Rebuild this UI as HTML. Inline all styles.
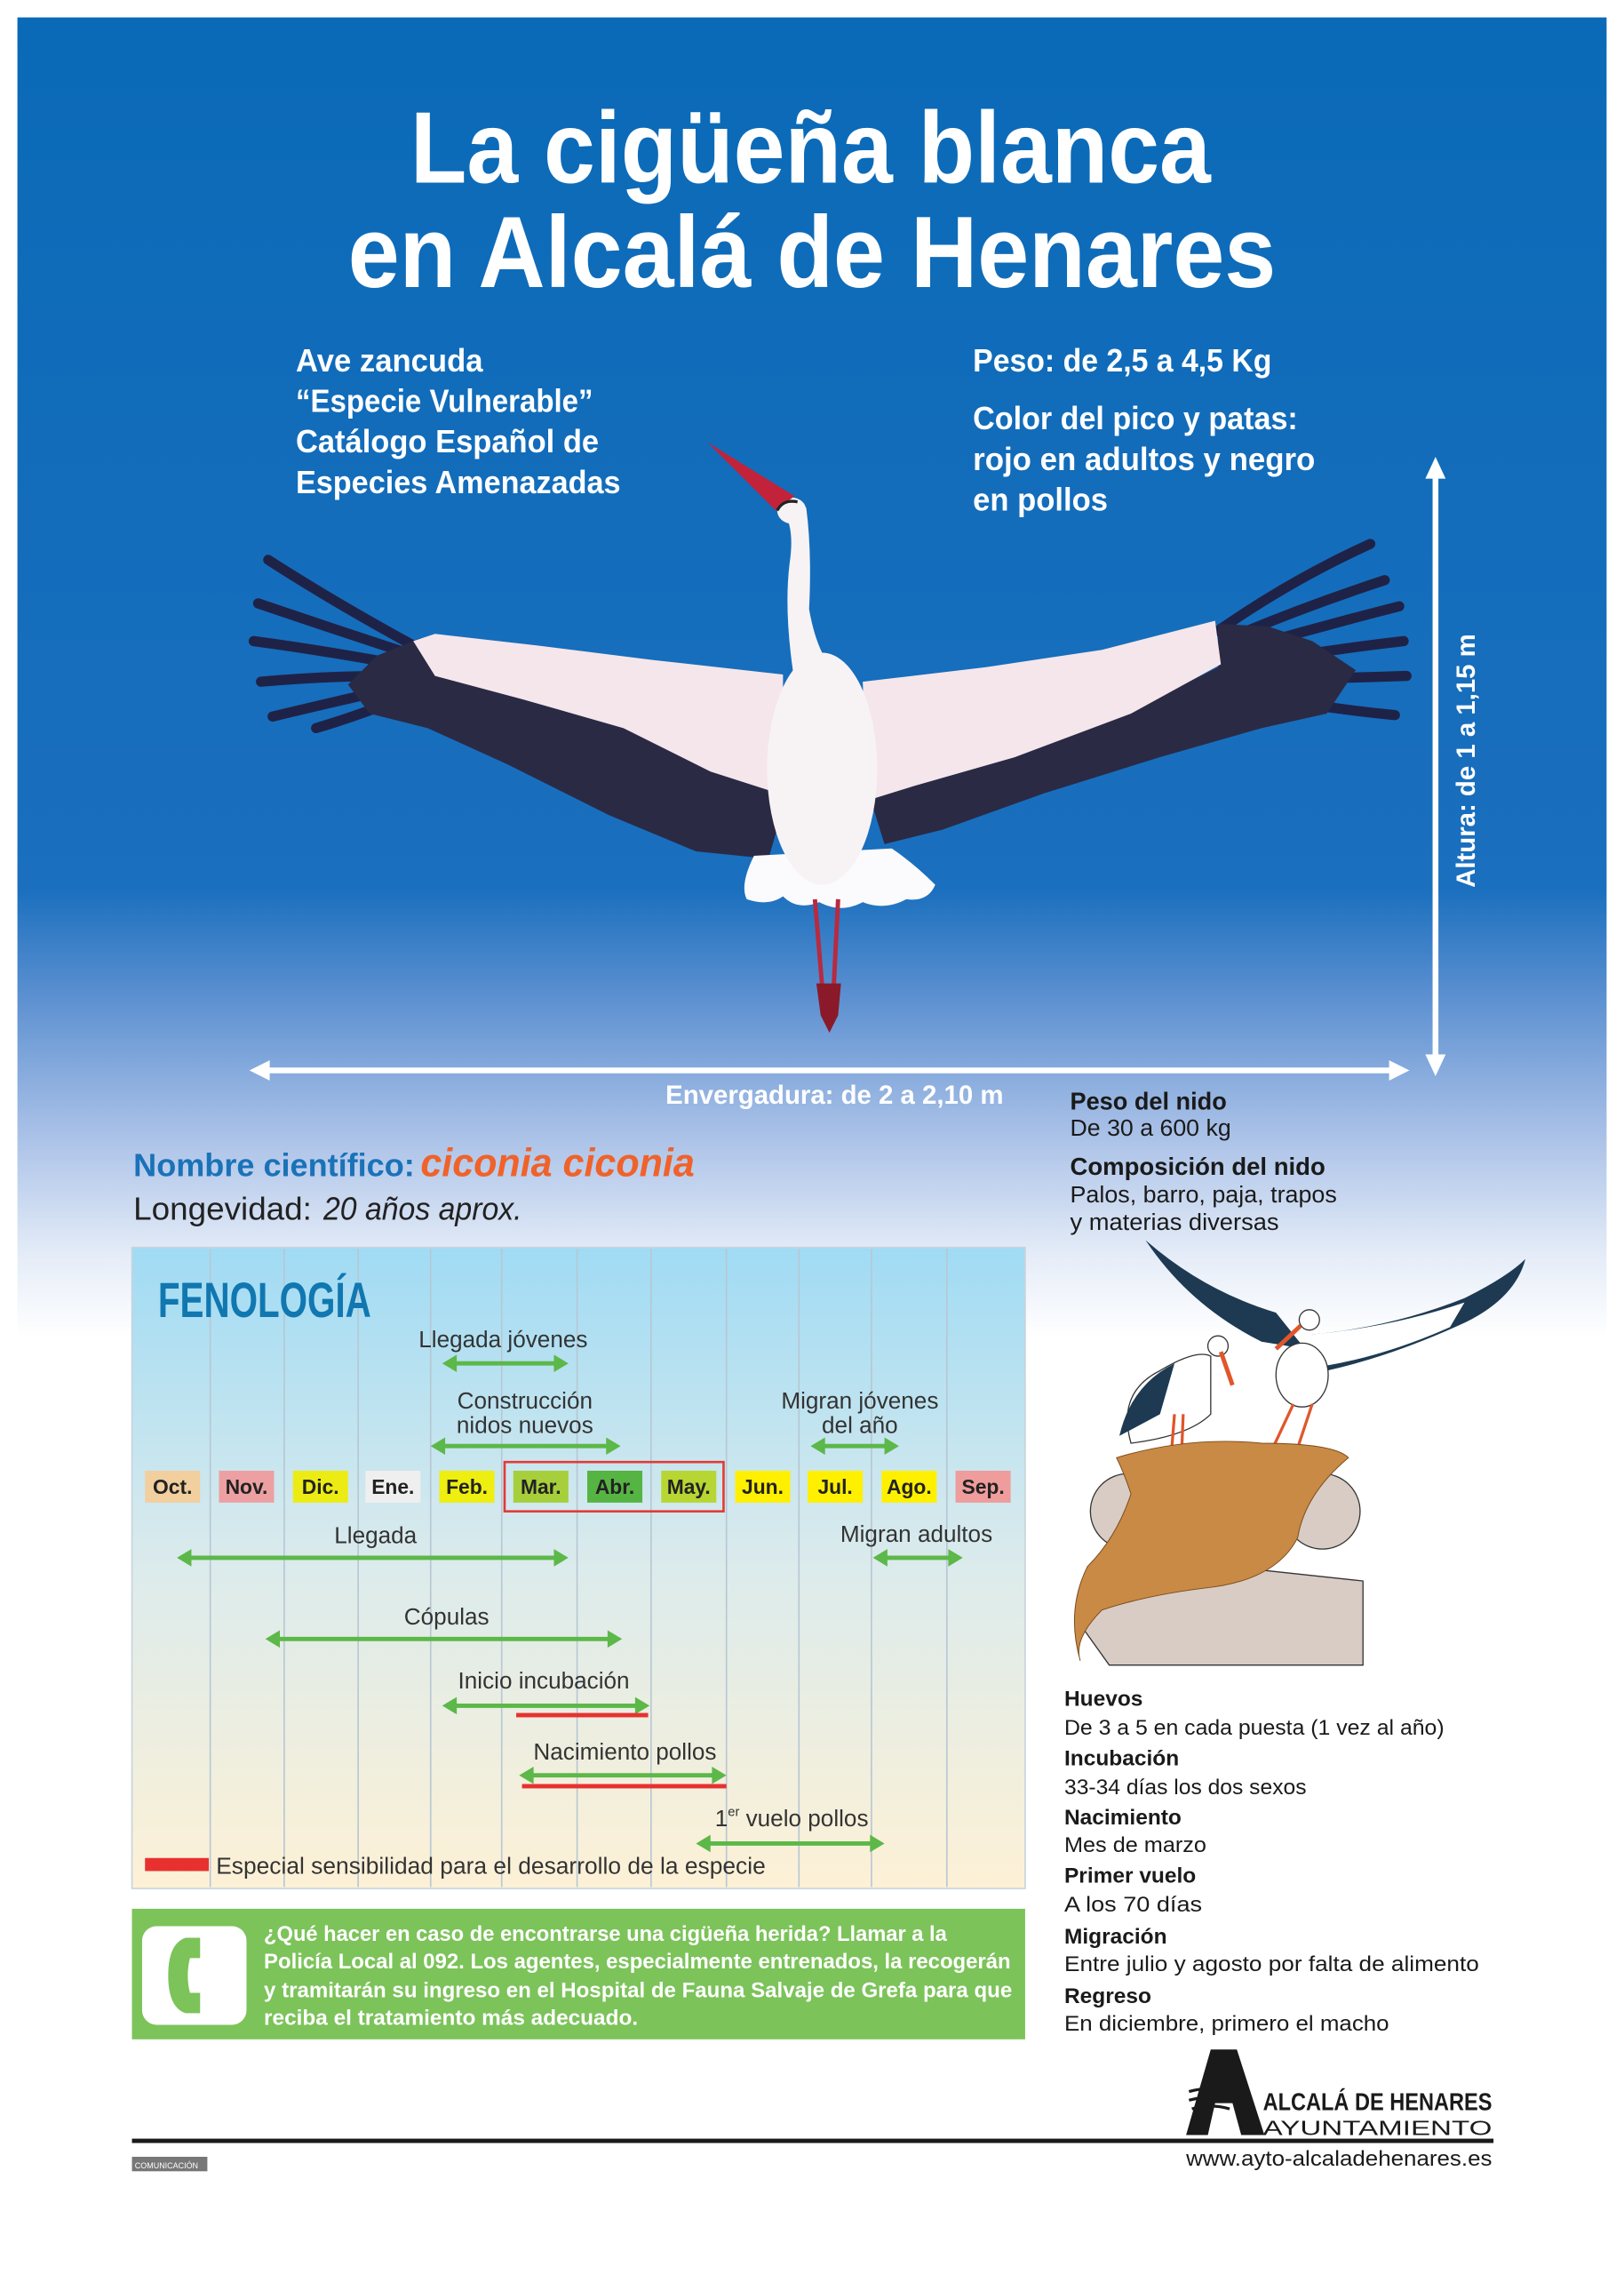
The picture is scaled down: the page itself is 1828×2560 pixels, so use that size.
<!DOCTYPE html>
<html><head><meta charset="utf-8"><style>
html,body{margin:0;padding:0;background:#fff;}
svg{display:block;}
text{font-family:"Liberation Sans",sans-serif;}
.n{font-family:"Liberation Sans Narrow","Liberation Sans",sans-serif;}
</style></head><body>
<svg width="1828" height="2560" viewBox="0 0 1120 1568.5" xmlns="http://www.w3.org/2000/svg">
<defs>
<linearGradient id="bg" x1="0" y1="0" x2="0" y2="1">
<stop offset="0" stop-color="#0a6ab7"/>
<stop offset="0.66" stop-color="#1a6fbe"/>
<stop offset="0.74" stop-color="#5a8fd0"/>
<stop offset="0.84" stop-color="#a5bee6"/>
<stop offset="0.94" stop-color="#e6edf8"/>
<stop offset="1" stop-color="#ffffff"/>
</linearGradient>
<linearGradient id="fen" x1="0" y1="0" x2="0" y2="1">
<stop offset="0" stop-color="#a0dbf4"/>
<stop offset="0.5" stop-color="#dcebec"/>
<stop offset="1" stop-color="#fdf1d6"/>
</linearGradient>
</defs>
<rect x="12" y="12" width="1096" height="910" fill="url(#bg)"/>

<!-- Title -->
<g fill="#fff" font-weight="bold">
<text x="283" y="126" font-size="70" textLength="552" lengthAdjust="spacingAndGlyphs">La cigüeña blanca</text>
<text x="240" y="198" font-size="70" textLength="640" lengthAdjust="spacingAndGlyphs">en Alcalá de Henares</text>
<g font-size="22">
<text x="204" y="256" textLength="129" lengthAdjust="spacingAndGlyphs">Ave zancuda</text>
<text x="204" y="284" textLength="205" lengthAdjust="spacingAndGlyphs">“Especie Vulnerable”</text>
<text x="204" y="312" textLength="209" lengthAdjust="spacingAndGlyphs">Catálogo Español de</text>
<text x="204" y="340" textLength="224" lengthAdjust="spacingAndGlyphs">Especies Amenazadas</text>
<text x="671" y="256" textLength="206" lengthAdjust="spacingAndGlyphs">Peso: de 2,5 a 4,5 Kg</text>
<text x="671" y="296" textLength="224" lengthAdjust="spacingAndGlyphs">Color del pico y patas:</text>
<text x="671" y="324" textLength="236" lengthAdjust="spacingAndGlyphs">rojo en adultos y negro</text>
<text x="671" y="352" textLength="93" lengthAdjust="spacingAndGlyphs">en pollos</text>
</g>
<text x="459" y="761" font-size="18" textLength="233" lengthAdjust="spacingAndGlyphs">Envergadura: de 2 a 2,10 m</text>
<text transform="translate(1017,612) rotate(-90)" font-size="18" textLength="175" lengthAdjust="spacingAndGlyphs">Altura: de 1 a 1,15 m</text>
</g>

<!-- measure arrows -->
<g fill="#fff" stroke="#fff">
<line x1="180" y1="738" x2="964" y2="738" stroke-width="4"/>
<polygon points="172,738 186,731 186,745" stroke="none"/>
<polygon points="972,738 958,731 958,745" stroke="none"/>
<line x1="990" y1="323" x2="990" y2="734" stroke-width="4"/>
<polygon points="990,315 983,330 997,330" stroke="none"/>
<polygon points="990,742 983,727 997,727" stroke="none"/>
</g>

<!-- Stork -->
<g>
<g stroke="#1f2247" stroke-width="7" stroke-linecap="round" fill="none">
<path d="M285,445 Q230,415 185,386"/>
<path d="M280,450 Q225,432 178,416"/>
<path d="M275,458 Q220,448 175,442"/>
<path d="M270,466 Q225,466 180,470"/>
<path d="M265,476 Q230,484 188,494"/>
<path d="M270,484 Q245,494 218,502"/>
<path d="M840,435 Q890,400 945,375"/>
<path d="M848,440 Q900,418 955,400"/>
<path d="M855,448 Q910,432 965,418"/>
<path d="M860,458 Q915,448 968,442"/>
<path d="M865,468 Q915,468 970,466"/>
<path d="M860,478 Q910,488 962,493"/>
</g>
<polygon fill="#2a2a45" points="290,440 260,452 240,472 255,492 295,502 350,527 420,562 480,587 530,592 545,540 490,530 430,500 360,480 300,465"/>
<polygon fill="#2a2a45" points="840,430 875,432 905,442 935,462 915,492 870,502 800,522 720,547 650,572 610,582 600,550 700,520 780,490 840,460"/>
<polygon fill="#f4e6ea" points="540,465 450,455 370,445 300,437 285,442 300,466 360,482 430,502 490,532 540,548"/>
<polygon fill="#f4e6ea" points="595,470 680,460 760,448 838,428 842,458 780,492 700,522 630,542 598,552"/>
<path d="M520,590 Q510,610 515,620 Q530,625 540,618 Q550,628 565,622 Q580,630 595,622 Q610,628 625,620 Q640,622 645,610 Q630,595 615,585 Z" fill="#fbfbfd"/>
<ellipse cx="567" cy="530" rx="38" ry="80" fill="#f7f3f5"/>
<path d="M548,470 Q540,420 545,385 Q548,360 538,350 L556,350 Q560,380 558,420 Q565,460 585,470 Z" fill="#f7f3f5"/>
<ellipse cx="546" cy="352" rx="10" ry="9" fill="#f7f3f5"/>
<path d="M535,352 L488,305 L548,342 Z" fill="#c2233a"/>
<path d="M536,352 Q540,344 550,346" stroke="#222" stroke-width="2" fill="none"/>
<g stroke="#b82a40" stroke-width="3" fill="none">
<path d="M562,620 L567,680"/><path d="M578,620 L575,680"/>
</g>
<path d="M563,678 L566,700 L572,712 L578,700 L580,678 Z" fill="#8a1a2a"/>
</g>

<!-- Science name -->
<text x="92" y="811" font-size="22" font-weight="bold" fill="#1a72b8" textLength="194" lengthAdjust="spacingAndGlyphs">Nombre científico:</text>
<text x="290" y="811" font-size="27" font-weight="bold" font-style="italic" fill="#f0622a" textLength="189" lengthAdjust="spacingAndGlyphs">ciconia ciconia</text>
<text x="92" y="841" font-size="22" fill="#222" textLength="123" lengthAdjust="spacingAndGlyphs">Longevidad:</text>
<text x="223" y="841" font-size="22" font-style="italic" fill="#222" textLength="137" lengthAdjust="spacingAndGlyphs">20 años aprox.</text>

<!-- Fenología -->
<rect x="91" y="860" width="616" height="442" fill="url(#fen)" stroke="#c8d3dc" stroke-width="1"/>
<g stroke="#b7c7d4" stroke-width="1">
<line x1="145" y1="861" x2="145" y2="1301"/><line x1="196" y1="861" x2="196" y2="1301"/>
<line x1="247" y1="861" x2="247" y2="1301"/><line x1="297" y1="861" x2="297" y2="1301"/>
<line x1="346" y1="861" x2="346" y2="1301"/><line x1="398" y1="861" x2="398" y2="1301"/>
<line x1="449" y1="861" x2="449" y2="1301"/><line x1="501" y1="861" x2="501" y2="1301"/>
<line x1="551" y1="861" x2="551" y2="1301"/><line x1="601" y1="861" x2="601" y2="1301"/>
<line x1="653" y1="861" x2="653" y2="1301"/>
</g>
<text x="109" y="908" font-size="34" font-weight="bold" fill="#1177b0" textLength="147" lengthAdjust="spacingAndGlyphs">FENOLOGÍA</text>

<g font-size="16" fill="#333" text-anchor="middle" class="n">
<text x="347" y="929">Llegada jóvenes</text>
<text x="362" y="971">Construcción</text>
<text x="362" y="988">nidos nuevos</text>
<text x="593" y="971">Migran jóvenes</text>
<text x="593" y="988">del año</text>
<text x="259" y="1064">Llegada</text>
<text x="632" y="1063">Migran adultos</text>
<text x="308" y="1120">Cópulas</text>
<text x="375" y="1164">Inicio incubación</text>
<text x="431" y="1213">Nacimiento pollos</text>
<text x="546" y="1259">1<tspan font-size="9" dy="-7">er</tspan><tspan dy="7"> vuelo pollos</tspan></text>
</g>
<text x="149" y="1292" font-size="16" fill="#333" class="n" textLength="379" lengthAdjust="spacingAndGlyphs">Especial sensibilidad para el desarrollo de la especie</text>
<rect x="100" y="1281" width="44" height="9" fill="#e8312f"/>

<!-- months -->
<g font-size="14" font-weight="bold" fill="#222" text-anchor="middle">
<rect x="100" y="1014" width="38" height="22" fill="#f1cf9e"/><text x="119" y="1030">Oct.</text>
<rect x="151" y="1014" width="38" height="22" fill="#eda0a2"/><text x="170" y="1030">Nov.</text>
<rect x="202" y="1014" width="38" height="22" fill="#ecec14"/><text x="221" y="1030">Dic.</text>
<rect x="252" y="1014" width="38" height="22" fill="#efefef"/><text x="271" y="1030">Ene.</text>
<rect x="303" y="1014" width="38" height="22" fill="#eeee10"/><text x="322" y="1030">Feb.</text>
<rect x="354" y="1014" width="38" height="22" fill="#a6cf3b"/><text x="373" y="1030">Mar.</text>
<rect x="405" y="1014" width="38" height="22" fill="#56b443"/><text x="424" y="1030">Abr.</text>
<rect x="456" y="1014" width="38" height="22" fill="#b7d633"/><text x="475" y="1030">May.</text>
<rect x="507" y="1014" width="38" height="22" fill="#fff000"/><text x="526" y="1030">Jun.</text>
<rect x="557" y="1014" width="38" height="22" fill="#fff000"/><text x="576" y="1030">Jul.</text>
<rect x="608" y="1014" width="38" height="22" fill="#fff000"/><text x="627" y="1030">Ago.</text>
<rect x="659" y="1014" width="38" height="22" fill="#ef9c9c"/><text x="678" y="1030">Sep.</text>
</g>
<rect x="348" y="1008" width="151" height="34" fill="none" stroke="#e53935" stroke-width="1.6"/>

<!-- arrows -->
<g fill="#5cb848" stroke="#5cb848">
<g stroke-width="3">
<line x1="312" y1="940" x2="385" y2="940"/>
<line x1="304" y1="997" x2="421" y2="997"/>
<line x1="566" y1="997" x2="613" y2="997"/>
<line x1="129" y1="1074" x2="385" y2="1074"/>
<line x1="609" y1="1074" x2="657" y2="1074"/>
<line x1="190" y1="1130" x2="422" y2="1130"/>
<line x1="312" y1="1176" x2="441" y2="1176"/>
<line x1="365" y1="1224" x2="494" y2="1224"/>
<line x1="487" y1="1271" x2="603" y2="1271"/>
</g>
<g stroke="none">
<polygon points="305,940 315,934 315,946"/><polygon points="392,940 382,934 382,946"/>
<polygon points="297,997 307,991 307,1003"/><polygon points="428,997 418,991 418,1003"/>
<polygon points="559,997 569,991 569,1003"/><polygon points="620,997 610,991 610,1003"/>
<polygon points="122,1074 132,1068 132,1080"/><polygon points="392,1074 382,1068 382,1080"/>
<polygon points="602,1074 612,1068 612,1080"/><polygon points="664,1074 654,1068 654,1080"/>
<polygon points="183,1130 193,1124 193,1136"/><polygon points="429,1130 419,1124 419,1136"/>
<polygon points="305,1176 315,1170 315,1182"/><polygon points="448,1176 438,1170 438,1182"/>
<polygon points="358,1224 368,1218 368,1230"/><polygon points="501,1224 491,1218 491,1230"/>
<polygon points="480,1271 490,1265 490,1277"/><polygon points="610,1271 600,1265 600,1277"/>
</g>
</g>
<rect x="356" y="1181" width="91" height="3" fill="#e8312f"/>
<rect x="360" y="1230" width="141" height="3" fill="#e8312f"/>

<!-- Green box -->
<rect x="91" y="1316" width="616" height="90" fill="#7cc35a"/>
<rect x="98" y="1328" width="72" height="68" rx="10" fill="#fff"/>
<path d="M128,1336 Q116,1340 116,1362 Q116,1384 128,1388 L138,1388 L138,1374 L131,1374 Q128,1362 131,1350 L138,1350 L138,1336 Z" fill="#7cc35a"/>
<g fill="#fff" font-weight="bold" font-size="15" class="n">
<text x="182" y="1338" textLength="471" lengthAdjust="spacingAndGlyphs">¿Qué hacer en caso de encontrarse una cigüeña herida? Llamar a la</text>
<text x="182" y="1357" textLength="515" lengthAdjust="spacingAndGlyphs">Policía Local al 092. Los agentes, especialmente entrenados, la recogerán</text>
<text x="182" y="1377" textLength="516" lengthAdjust="spacingAndGlyphs">y tramitarán su ingreso en el Hospital de Fauna Salvaje de Grefa para que</text>
<text x="182" y="1396" textLength="258" lengthAdjust="spacingAndGlyphs">reciba el tratamiento más adecuado.</text>
</g>

<!-- Right column nest text -->
<g fill="#1a1a1a" font-size="17">
<text x="738" y="765" font-weight="bold" textLength="108" lengthAdjust="spacingAndGlyphs">Peso del nido</text>
<text x="738" y="783" font-size="16" textLength="111" lengthAdjust="spacingAndGlyphs">De 30 a 600 kg</text>
<text x="738" y="810" font-weight="bold" textLength="176" lengthAdjust="spacingAndGlyphs">Composición del nido</text>
<text x="738" y="829" font-size="16" textLength="184" lengthAdjust="spacingAndGlyphs">Palos, barro, paja, trapos</text>
<text x="738" y="848" font-size="16" textLength="144" lengthAdjust="spacingAndGlyphs">y materias diversas</text>
</g>

<!-- nest illustration -->
<g>
<path d="M790,855 Q830,890 880,905 L900,930 L870,925 Q820,900 790,855 Z" fill="#1d3a52"/>
<path d="M905,920 Q960,915 1010,895 Q1040,880 1052,868 Q1045,895 1010,912 Q960,935 915,945 Z" fill="#1d3a52"/>
<path d="M905,920 Q960,915 1010,898 L1000,915 Q955,935 912,942 Z" fill="#fff"/>
<ellipse cx="898" cy="948" rx="18" ry="22" fill="#fff" stroke="#333" stroke-width="0.8"/>
<circle cx="903" cy="910" r="7" fill="#fff" stroke="#333" stroke-width="0.8"/>
<path d="M897,914 L880,930" stroke="#e0562a" stroke-width="3"/>
<path d="M892,968 L878,998 M905,968 L895,998" stroke="#e0562a" stroke-width="2" fill="none"/>
<path d="M780,995 Q770,960 800,945 Q825,930 835,935 L835,975 Q820,990 780,995 Z" fill="#fff" stroke="#333" stroke-width="0.8"/>
<path d="M772,990 Q780,955 810,940 L800,975 Z" fill="#1d3a52"/>
<circle cx="840" cy="928" r="7" fill="#fff" stroke="#333" stroke-width="0.8"/>
<path d="M842,932 L850,955" stroke="#e0562a" stroke-width="3"/>
<path d="M810,975 L808,1000 M816,975 L815,1000" stroke="#e0562a" stroke-width="2"/>
<circle cx="778" cy="1042" r="26" fill="#d8ccc4" stroke="#333" stroke-width="0.8"/>
<circle cx="912" cy="1042" r="26" fill="#d8ccc4" stroke="#333" stroke-width="0.8"/>
<polygon points="755,1085 800,1075 940,1090 940,1148 765,1148 745,1120" fill="#d8ccc4" stroke="#333" stroke-width="0.8"/>
<path d="M770,1005 Q820,990 870,995 Q920,995 930,1005 Q900,1030 895,1060 Q880,1090 830,1095 Q790,1100 760,1110 Q740,1130 745,1145 Q735,1110 750,1080 Q770,1060 780,1030 Q775,1015 770,1005 Z" fill="#c98a45" stroke="#7a4a1a" stroke-width="0.6"/>
</g>

<!-- lower right -->
<g fill="#1a1a1a" font-size="15" class="n">
<text x="734" y="1176" font-weight="bold">Huevos</text>
<text x="734" y="1196" textLength="262" lengthAdjust="spacingAndGlyphs">De 3 a 5 en cada puesta (1 vez al año)</text>
<text x="734" y="1217" font-weight="bold">Incubación</text>
<text x="734" y="1237" textLength="167" lengthAdjust="spacingAndGlyphs">33-34 días los dos sexos</text>
<text x="734" y="1258" font-weight="bold">Nacimiento</text>
<text x="734" y="1277" textLength="98" lengthAdjust="spacingAndGlyphs">Mes de marzo</text>
<text x="734" y="1298" font-weight="bold">Primer vuelo</text>
<text x="734" y="1318" textLength="95" lengthAdjust="spacingAndGlyphs">A los 70 días</text>
<text x="734" y="1340" font-weight="bold">Migración</text>
<text x="734" y="1359" textLength="286" lengthAdjust="spacingAndGlyphs">Entre julio y agosto por falta de alimento</text>
<text x="734" y="1381" font-weight="bold">Regreso</text>
<text x="734" y="1400" textLength="224" lengthAdjust="spacingAndGlyphs">En diciembre, primero el macho</text>
</g>

<!-- logo -->
<polygon points="835,1413 853,1413 872,1472 856,1472 850,1450 838,1450 833,1472 818,1472" fill="#1a1a1a"/>
<g stroke="#1a1a1a" stroke-width="2" fill="none"><path d="M820,1442 Q835,1438 848,1442"/><path d="M820,1448 Q835,1444 848,1448"/><path d="M822,1454 Q835,1450 848,1454"/></g>
<text x="871" y="1455" font-size="17" font-weight="bold" fill="#1a1a1a" textLength="158" lengthAdjust="spacingAndGlyphs">ALCALÁ DE HENARES</text>
<text x="871" y="1472" font-size="14" fill="#1a1a1a" textLength="158" lengthAdjust="spacingAndGlyphs">AYUNTAMIENTO</text>
<rect x="91" y="1474.5" width="939" height="3" fill="#1a1a1a"/>
<text x="818" y="1493" font-size="15" fill="#1a1a1a" textLength="211" lengthAdjust="spacingAndGlyphs">www.ayto-alcaladehenares.es</text>
<rect x="91" y="1487" width="52" height="10" fill="#777"/>
<text x="93" y="1495" font-size="5.5" fill="#fff">COMUNICACIÓN</text>
</svg>
</body></html>
